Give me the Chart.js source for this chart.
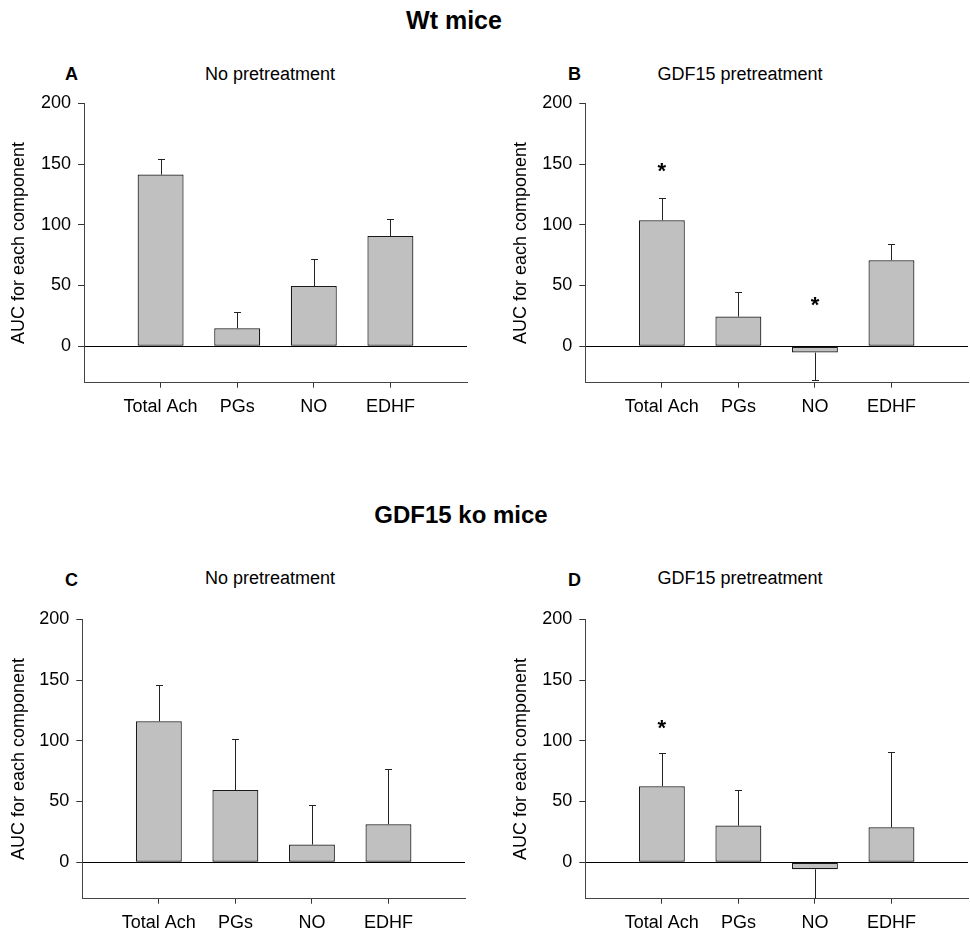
<!DOCTYPE html>
<html><head><meta charset="utf-8">
<script src="https://cdn.jsdelivr.net/npm/chart.js@4/dist/chart.umd.min.js"></script>
<style>
body{margin:0;background:#fff;width:970px;height:934px;position:relative;overflow:hidden;font-family:"Liberation Sans",Arial,sans-serif;}
.t{position:absolute;white-space:nowrap;line-height:1;color:#000;}
.c{transform:translateX(-50%);}
canvas{position:absolute;}
</style></head><body>
<div class="t c" style="font-weight:bold;font-size:25px;left:454px;top:8px;">Wt mice</div>
<div class="t c" style="font-weight:bold;font-size:24px;left:461px;top:503px;">GDF15 ko mice</div>
<div class="t" style="font-weight:bold;font-size:18px;left:65px;top:65px;">A</div>
<div class="t" style="font-weight:bold;font-size:18px;left:568px;top:65px;">B</div>
<div class="t" style="font-weight:bold;font-size:18px;left:65px;top:571px;">C</div>
<div class="t" style="font-weight:bold;font-size:18px;left:568px;top:571px;">D</div>
<div class="t c" style="font-size:18px;left:270px;top:65px;">No pretreatment</div>
<div class="t c" style="font-size:18px;left:740px;top:65px;">GDF15 pretreatment</div>
<div class="t c" style="font-size:18px;left:270px;top:569px;">No pretreatment</div>
<div class="t c" style="font-size:18px;left:740px;top:569px;">GDF15 pretreatment</div>
<canvas id="cA"></canvas>
<canvas id="cB"></canvas>
<canvas id="cC"></canvas>
<canvas id="cD"></canvas>
<script>
const categories = ['Total Ach', 'PGs', 'NO', 'EDHF'];
const yTicks = [0, 50, 100, 150, 200];
const yTitle = 'AUC for each component';

// Wt mice
const wtNoPre = [141.3, 14.8, 49.6, 90.8];
const wtNoPreErr = [13.2, 13.7, 22.0, 14.2];
const wtGdf = [103.7, 24.4, -5.2, 70.8];
const wtGdfErr = [18.3, 20.6, 22.2, 13.4];
const wtGdfStars = [148, null, 38.4, null];
// GDF15 ko mice
const koNoPre = [116.0, 59.5, 14.6, 31.3];
const koNoPreErr = [30.2, 41.7, 32.9, 45.8];
const koGdf = [62.6, 30.2, -5.8, 28.8];
const koGdfErr = [27.7, 29.3, 30.0, 62.0];
const koGdfStars = [115, null, null, null];

const FONT = '"Liberation Sans", Arial, sans-serif';

const errPlugin = {
  id: 'errbars',
  afterDatasetsDraw(chart, args, opts) {
    const ctx = chart.ctx, area = chart.chartArea, ys = chart.scales.y;
    const meta = chart.getDatasetMeta(0);
    ctx.save();
    ctx.beginPath();
    ctx.rect(area.left, area.top, area.right - area.left, area.bottom - area.top);
    ctx.clip();
    ctx.strokeStyle = '#222';
    ctx.lineWidth = 1;
    meta.data.forEach((bar, i) => {
      const v = opts.values[i], e = opts.errors[i];
      const end = v >= 0 ? v + e : v - e;
      const x = Math.round(bar.x) + 0.5;
      const y0 = ys.getPixelForValue(v), y1 = ys.getPixelForValue(end);
      const yc = Math.round(y1) + 0.5;
      ctx.beginPath();
      ctx.moveTo(x, y0); ctx.lineTo(x, yc);
      ctx.moveTo(x - 3.5, yc); ctx.lineTo(x + 3.5, yc);
      ctx.stroke();
    });
    ctx.restore();
    if (opts.stars) {
      ctx.save();
      ctx.fillStyle = '#000';
      ctx.font = 'bold 22px ' + FONT;
      ctx.textAlign = 'center';
      ctx.textBaseline = 'alphabetic';
      meta.data.forEach((bar, i) => {
        const s = opts.stars[i];
        if (s === null || s === undefined) return;
        ctx.fillText('*', bar.x, ys.getPixelForValue(s) + 12);
      });
      ctx.restore();
    }
  }
};

function makePanel(id, cv, area, values, errors, stars) {
  const el = document.getElementById(id);
  el.width = cv.w; el.height = cv.h;
  el.style.left = cv.x + 'px'; el.style.top = cv.y + 'px';
  el.style.width = cv.w + 'px'; el.style.height = cv.h + 'px';
  const yW = area.l - cv.x;
  const xH = cv.y + cv.h - area.b;
  new Chart(el, {
    type: 'bar',
    data: {
      datasets: [{
        data: categories.map((c, i) => ({ x: i + 1, y: values[i] })),
        backgroundColor: '#c0c0c0',
        borderColor: '#1a1a1a',
        borderWidth: 1.2,
        borderSkipped: false,
        barPercentage: 0.6,
        categoryPercentage: 1
      }]
    },
    options: {
      responsive: false,
      animation: false,
      layout: { padding: { top: area.t - cv.y, left: 0, right: cv.x + cv.w - area.r, bottom: 0 } },
      plugins: {
        legend: { display: false },
        tooltip: { enabled: false },
        errbars: { values: values, errors: errors, stars: stars }
      },
      scales: {
        x: {
          type: 'linear', min: 0, max: 5, offset: false,
          afterBuildTicks: s => { s.ticks = categories.map((c, i) => ({ value: i + 1 })); },
          afterFit: s => { s.height = xH; },
          ticks: { callback: v => categories[v - 1], color: '#000', font: { family: FONT, size: 18 }, padding: 9, maxRotation: 0, autoSkip: false },
          grid: { offset: false, drawOnChartArea: false, drawTicks: true, tickLength: 5, tickColor: '#333' },
          border: { display: true, color: '#444', width: 1 }
        },
        y: {
          min: -30, max: 200,
          afterBuildTicks: s => { s.ticks = yTicks.map(v => ({ value: v })); },
          afterFit: s => { s.width = yW; },
          ticks: { color: '#000', font: { family: FONT, size: 18 }, padding: 7 },
          grid: {
            drawOnChartArea: true, drawTicks: true, tickLength: 6, tickColor: '#333',
            color: c => (c.tick && c.tick.value === 0) ? '#000' : 'rgba(0,0,0,0)', lineWidth: 1
          },
          border: { display: true, color: '#444', width: 1 },
          title: { display: true, text: yTitle, color: '#000', font: { family: FONT, size: 18 }, padding: { top: 8, bottom: 0 } }
        }
      }
    },
    plugins: [errPlugin]
  });
}

makePanel('cA', { x: 0, y: 70, w: 485, h: 360 }, { l: 84, t: 103.3, r: 467, b: 382.7 }, wtNoPre, wtNoPreErr, null);
makePanel('cB', { x: 502, y: 70, w: 468, h: 360 }, { l: 585.3, t: 103.3, r: 968, b: 382.7 }, wtGdf, wtGdfErr, wtGdfStars);
makePanel('cC', { x: 0, y: 586, w: 485, h: 348 }, { l: 82.3, t: 619.3, r: 465, b: 898.7 }, koNoPre, koNoPreErr, null);
makePanel('cD', { x: 502, y: 586, w: 468, h: 348 }, { l: 585.3, t: 619.3, r: 968, b: 898.7 }, koGdf, koGdfErr, koGdfStars);
</script>
</body></html>
